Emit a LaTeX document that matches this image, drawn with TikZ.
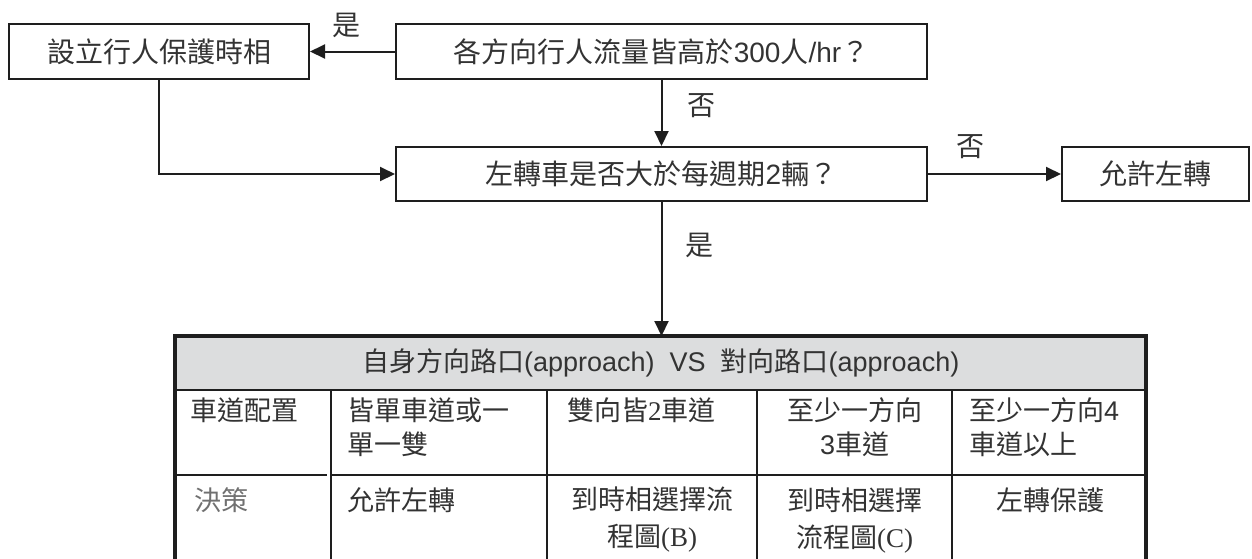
\documentclass[tikz,border=0pt]{standalone}
\usepackage{fontspec}
\setmainfont{Noto Sans CJK TC}
\newfontfamily\lat{Liberation Sans}
\newfontfamily\tms{Liberation Serif}
\usetikzlibrary{arrows.meta}
\definecolor{txt}{HTML}{333333}
\definecolor{linec}{HTML}{1E1E1E}
\definecolor{hdrgray}{HTML}{DCDDDE}
\begin{document}
\begin{tikzpicture}[x=1pt,y=-1pt,
  box/.style={draw=linec, line width=2pt, minimum height=55pt, inner sep=0pt,
    font=\fontsize{28}{30}\selectfont, text=txt},
  arr/.style={line width=2pt, draw=linec, -{Triangle[length=15pt,width=14pt]}},
  lbl/.style={font=\fontsize{28}{30}\selectfont, text=txt, inner sep=0pt},
  cell/.style={inner sep=0pt, font=\fontsize{27}{34}\selectfont, text=txt},
  cellb/.style={inner sep=0pt, font=\fontsize{27}{37}\selectfont, text=txt},
  grid/.style={line width=2pt, draw=linec},
  outer/.style={line width=4.5pt, draw=linec, line join=miter}]
\useasboundingbox (0,0) rectangle (1252,558);

% flowchart boxes
\node[box, minimum width=300pt] (b1) at (159,51.5) {設立行人保護時相};
\node[box, minimum width=531pt] (b2) at (661.5,51.5) {各方向行人流量皆高於{\lat 300}人{\lat /hr}？};
\node[box, minimum width=531pt, minimum height=54pt] (b3) at (661.5,174) {左轉車是否大於每週期{\lat 2}輛？};
\node[box, minimum width=187pt, minimum height=54pt] (b4) at (1155.5,174) {允許左轉};

% table header
\node[cell, fill=hdrgray, minimum width=971pt, minimum height=54pt, anchor=north west] (hdr) at (175,336)
  {自身方向路口{\lat (approach)\ \ VS\ \ }對向路口{\lat (approach)}};

% connectors
\draw[arr] (b2.west) -- (b1.east);
\draw[arr] (b2.south) -- (b3.north);
\draw[arr] (b1.south) |- (b3.west);
\draw[arr] (b3.east) -- (b4.west);
\draw[arr] (b3.south) -- (b3.south |- hdr.north);

% labels
\node[lbl] (l1) at (346,25) {是};
\node[lbl] (l2) at (701,106) {否};
\node[lbl] (l3) at (970,147) {否};
\node[lbl] (l4) at (699,245) {是};

% table grid
\draw[grid] (175,390) -- (1146,390);
\draw[grid] (331,390) -- (331,562);
\draw[grid] (547,390) -- (547,562);
\draw[grid] (757,390) -- (757,562);
\draw[grid] (952,390) -- (952,562);
\draw[grid] (175,475) -- (327,475);
\draw[grid] (331,475) -- (1146,475);
\draw[outer] (175,562) -- (175,336) -- (1146,336) -- (1146,562);

% table cells
\node[cell, anchor=north west] (c11) at (190,398) {車道配置};
\node[cell, anchor=north west, align=left] (c12) at (347,398) {皆單車道或一\\單一雙};
\node[cell, anchor=north west] (c13) at (567,398) {雙向皆{\tms 2}車道};
\node[cell, anchor=north, align=center] (c14) at (854.5,397) {至少一方向\\{\lat 3}車道};
\node[cell, anchor=north west, align=left] (c15) at (969,397) {至少一方向{\lat 4}\\車道以上};

\node[cell, anchor=north west, text=txt!70] (c21) at (194,487) {決策};
\node[cell, anchor=north west] (c22) at (347,487) {允許左轉};
\node[cellb, anchor=north, align=center] (c23) at (652,487) {到時相選擇流\\程圖{\tms (B)}};
\node[cellb, anchor=north, align=center] (c24) at (854.5,488) {到時相選擇\\流程圖{\tms (C)}};
\node[cell, anchor=north] (c25) at (1050,487) {左轉保護};
\end{tikzpicture}
\end{document}
